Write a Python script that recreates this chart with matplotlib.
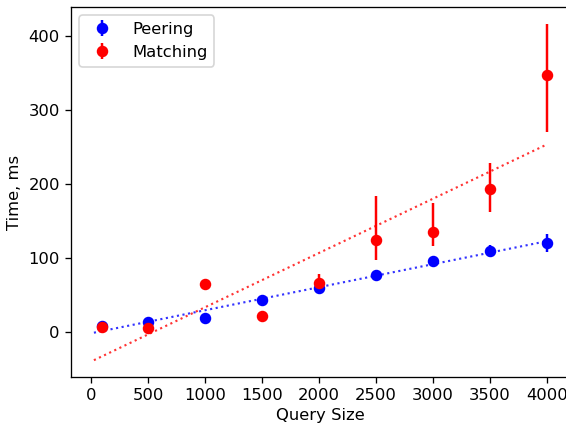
import numpy as np
import matplotlib
matplotlib.use("Agg")
import matplotlib.pyplot as plt

# query sizes and measured times (ms)
sizes = [100, 500, 1000, 1500, 2000, 2500, 3000, 3500, 4000]

peering = [8.8, 14.2, 19.6, 42.9, 60.3, 77.3, 96.0, 109.4, 120.7]
peering_err = [5, 2, 5, 2, 2, 2, 2, 8, 12]

matching = [7.5, 6.2, 65.7, 22.3, 67.0, 124.0, 136.0, 193.0, 348.0]
matching_lo = [2, 2, 2, 2, 8, 26, 20, 31, 77]
matching_hi = [2, 2, 2, 2, 12, 60, 38, 36, 69]

fit_range = [25, 4000]

dpi = 118
fig = plt.figure(figsize=(566 / dpi, 424 / dpi), dpi=dpi)
ax = fig.add_axes([0.1259, 0.1108, 0.8800, 0.8726])

ax.errorbar(sizes, peering, yerr=peering_err, fmt='o', color='blue',
            label='Peering')
ax.errorbar(sizes, matching, yerr=[matching_lo, matching_hi], fmt='o',
            color='red', label='Matching')

# linear fits
fx = np.array(fit_range)
p = np.polyfit(sizes, peering, 1)
ax.plot(fx, np.polyval(p, fx), 'b:', lw=1.3, alpha=0.8)
m = np.polyfit(sizes, matching, 1)
ax.plot(fx, np.polyval(m, fx), 'r:', lw=1.3, alpha=0.8)

ax.set_xlabel("Query Size", labelpad=3)
ax.set_ylabel("Time, ms")
ax.legend(loc='upper left')

fig.savefig("out.png", dpi=dpi)
